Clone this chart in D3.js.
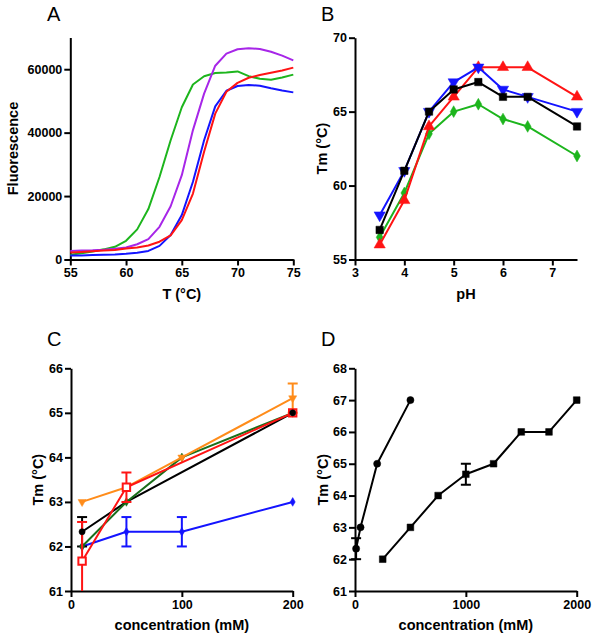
<!DOCTYPE html>
<html><head><meta charset="utf-8">
<script src="https://cdn.jsdelivr.net/npm/d3@7"></script>
<style>body{margin:0;background:#fff}svg{display:block}
.ax text{font-family:"Liberation Sans",Arial,sans-serif;font-weight:bold;font-size:12.5px;fill:#000}
.ax path,.ax line{stroke:#000;stroke-width:2}
.title{font-family:"Liberation Sans",Arial,sans-serif;font-weight:bold;font-size:14.5px;fill:#000}
.lab{font-family:"Liberation Sans",Arial,sans-serif;font-size:20px;fill:#000}
</style></head><body>
<script>
// ---------- Panel A: fluorescence melt curves ----------
const tempA = [55,56,57,58,59,60,61,62,63,64,65,66,67,68,69,70,71,72,73,74,75];
const fluoGreen  = [1500,2000,2500,3200,4000,5900,9500,15900,26000,37600,48000,55200,57800,58800,59000,59300,57800,57000,56700,57400,58300];
const fluoPurple = [2700,2800,2900,3100,3400,3800,4800,6400,10300,16800,26600,40800,52300,61100,64900,66300,66600,66400,65500,64300,62800];
const fluoBlue   = [1300,1300,1400,1500,1600,1800,2100,2700,4300,7700,14000,24500,37600,48300,53200,54700,55000,54800,54000,53300,52700];
const fluoRed    = [2200,2400,2600,2800,3000,3500,3800,4400,5600,7600,12400,20800,34000,46000,52900,55700,57300,58200,58900,59600,60500];
const ticksAx = [55,60,65,70,75];
const ticksAy = [0,20000,40000,60000];

// ---------- Panel B: Tm vs pH ----------
const pHB = [3.5,4,4.5,5,5.5,6,6.5,7.5];
const tmBlack = [57,61,65,66.5,67,66,66,64];
const tmRed   = [56,59,64,66,68,68,68,66];
const tmBlue  = [58,61,65,67,68,66.5,66,65];
const tmGreen = [56.5,59.5,63.5,65,65.5,64.5,64,62];
const ticksBx = [3,4,5,6,7];
const ticksBy = [55,60,65,70];

// ---------- Panel C: Tm vs concentration (five salts) ----------
const concBlackC = [10,50,200];   const tmBlackC = [62.33,63,65];   const errBlackC = [0.33,0,0];
const concGreenC = [10,50,100,200]; const tmGreenC = [62,63,64,65];
const concOrangeC = [10,50,100,200]; const tmOrangeC = [63,63.33,64,65.33]; const errOrangeC = [0,0,0,0.33];
const concBlueC = [10,50,100,200]; const tmBlueC = [62,62.33,62.33,63]; const errBlueC = [0,0.33,0.33,0];
const concRedC = [10,50,200]; const tmRedC = [61.67,63.33,65]; const errRedC = [0.88,0.33,0];
const ticksCx = [0,100,200];
const ticksCy = [61,62,63,64,65,66];

// ---------- Panel D ----------
const concCircD = [10,50,200,500]; const tmCircD = [62.33,63,65,67]; const errCircD = [0.33,0,0,0];
const concSqD = [250,500,750,1000,1250,1500,1750,2000]; const tmSqD = [62,63,64,64.67,65,66,66,67]; const errSqD = [0,0,0,0.33,0,0,0,0];
const ticksDx = [0,1000,2000];
const ticksDy = [61,62,63,64,65,66,67,68];

const svg = d3.select("body").append("svg").attr("width",600).attr("height",642);

function panel(o){
  const g = svg.append("g");
  const x = d3.scaleLinear().domain(o.xd).range(o.xr);
  const y = d3.scaleLinear().domain(o.yd).range(o.yr);
  g.append("g").attr("class","ax").attr("transform",`translate(0,${o.yr[0]})`)
    .call(d3.axisBottom(x).tickValues(o.xt).tickSize(6).tickPadding(3).tickSizeOuter(0).tickFormat(d3.format("d")));
  g.append("g").attr("class","ax").attr("transform",`translate(${o.xr[0]},0)`)
    .call(d3.axisLeft(y).tickValues(o.yt).tickSize(6).tickPadding(2).tickSizeOuter(0).tickFormat(d3.format("d")));
  g.append("text").attr("class","title").attr("x",(o.xr[0]+o.xr[1])/2).attr("y",o.yr[0]+39).attr("text-anchor","middle").text(o.xlabel);
  g.append("text").attr("class","title").attr("transform",`translate(${o.ytx},${(o.yr[0]+o.yr[1])/2}) rotate(-90)`).attr("text-anchor","middle").text(o.ylabel);
  g.append("text").attr("class","lab").attr("x",o.lx).attr("y",o.ly).text(o.letter);
  const id = "clip"+o.letter;
  svg.append("clipPath").attr("id",id).append("rect").attr("x",o.xr[0]-8).attr("y",o.yr[1]-10).attr("width",o.xr[1]-o.xr[0]+16).attr("height",o.yr[0]-o.yr[1]+10);
  const plot = g.append("g").attr("clip-path",`url(#${id})`);
  return {g:plot,x,y};
}

function markers(p, xs, ys, color, opts){
  const pts = xs.map((d,i)=>[d,ys[i]]);
  const sym = d3.symbol().type(opts.sym).size(opts.size||50);
  p.g.selectAll(null).data(pts).enter().append("path").attr("d",sym)
    .attr("transform",d=>`translate(${p.x(d[0])},${p.y(d[1])})${opts.rot?" rotate("+opts.rot+")":""}`)
    .attr("fill",opts.open?"#fff":color).attr("stroke",color).attr("stroke-width",opts.open?2:0.5);
}

function series(p, xs, ys, color, opts){
  const pts = xs.map((d,i)=>[d,ys[i]]);
  const line = d3.line().x(d=>p.x(d[0])).y(d=>p.y(d[1]));
  const sw = opts.sw||2;
  if(opts.err){
    opts.err.forEach((e,i)=>{
      if(!e) return;
      const cx = p.x(xs[i]);
      const y1 = p.y(ys[i]+e), y0 = p.y(ys[i]-e);
      p.g.append("line").attr("x1",cx).attr("x2",cx).attr("y1",y1).attr("y2",y0).attr("stroke",color).attr("stroke-width",sw);
      [y1,y0].forEach(yy=>p.g.append("line").attr("x1",cx-5).attr("x2",cx+5).attr("y1",yy).attr("y2",yy).attr("stroke",color).attr("stroke-width",sw));
    });
  }
  p.g.append("path").attr("d",line(pts)).attr("fill","none").attr("stroke",color).attr("stroke-width",sw).attr("stroke-linejoin","round");
  if(opts.sym) markers(p, xs, ys, color, opts);
}

// Panel A
const pA = panel({xd:[55,75],xr:[70.3,293.3],yd:[0,70000],yr:[259.5,37.5],xt:ticksAx,yt:ticksAy,
  xlabel:"T (°C)",ylabel:"Fluorescence",ytx:17.5,letter:"A",lx:47,ly:21});
series(pA,tempA,fluoGreen,"#1db51d",{});
series(pA,tempA,fluoPurple,"#a726e8",{});
series(pA,tempA,fluoBlue,"#1414ff",{});
series(pA,tempA,fluoRed,"#ff1414",{});

// Panel B
const pB = panel({xd:[3,7.5],xr:[355,577],yd:[55,70],yr:[259.5,37.7],xt:ticksBx,yt:ticksBy,
  xlabel:"pH",ylabel:"Tm (°C)",ytx:327,letter:"B",lx:321,ly:21});
series(pB,pHB,tmGreen,"#1db51d",{sym:d3.symbolDiamond,size:40});
series(pB,pHB,tmRed,"#ff1414",{sym:d3.symbolTriangle,size:55});
series(pB,pHB,tmBlue,"#1414ff",{sym:d3.symbolTriangle,size:55,rot:180});
series(pB,pHB,tmBlack,"#000",{sym:d3.symbolSquare,size:55});

// Panel C
const pC = panel({xd:[0,200],xr:[71,292.7],yd:[61,66],yr:[591,368.3],xt:ticksCx,yt:ticksCy,
  xlabel:"concentration (mM)",ylabel:"Tm (°C)",ytx:43,letter:"C",lx:47,ly:346});
series(pC,concBlueC,tmBlueC,"#1414ff",{sym:d3.symbolDiamond,size:22,err:errBlueC});
series(pC,concBlackC,tmBlackC,"#000",{err:errBlackC});
series(pC,concGreenC,tmGreenC,"#1a6e1a",{sym:d3.symbolDiamond,size:22});
series(pC,concOrangeC,tmOrangeC,"#ff8c1a",{sym:d3.symbolTriangle,size:28,rot:180,err:errOrangeC});
series(pC,concRedC,tmRedC,"#ff1414",{sym:d3.symbolSquare,size:55,open:true,err:errRedC});
markers(pC,[concBlackC[0],concBlackC[2]],[tmBlackC[0],tmBlackC[2]],"#000",{sym:d3.symbolCircle,size:30});

// Panel D
const pD = panel({xd:[0,2000],xr:[355,576.7],yd:[61,68],yr:[591,368.3],xt:ticksDx,yt:ticksDy,
  xlabel:"concentration (mM)",ylabel:"Tm (°C)",ytx:328,letter:"D",lx:321,ly:346});
series(pD,concCircD,tmCircD,"#000",{sym:d3.symbolCircle,size:40,err:errCircD});
series(pD,concSqD,tmSqD,"#000",{sym:d3.symbolSquare,size:45,err:errSqD});
</script>
</body></html>
